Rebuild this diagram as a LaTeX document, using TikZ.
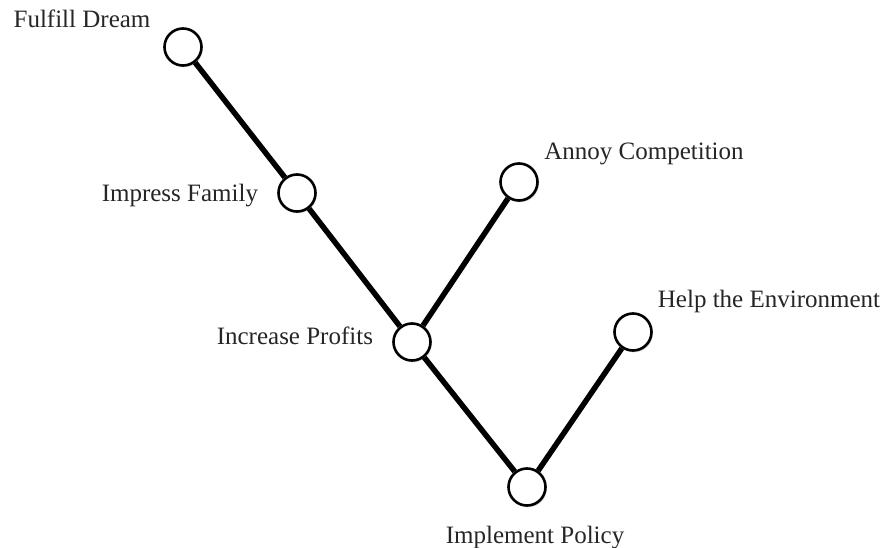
\documentclass[tikz,border=0pt]{standalone}
\usepackage{fontspec}
\setmainfont{Liberation Serif}
\usetikzlibrary{positioning,shadows}

\begin{document}
\begin{tikzpicture}[x=1pt, y=-1pt]
	\tikzset{
		goal/.style={circle, draw=black, fill=white, line width=2.6pt, minimum size=37pt, inner sep=0pt,
			drop shadow={opacity=0.35, shadow xshift=1.2pt, shadow yshift=-1.8pt}},
		goaltext/.style={text=black!85, font=\fontsize{25}{29}\selectfont, inner sep=0pt},
		goallink/.style={line width=5.5pt}
	}
	\useasboundingbox[fill=white] (0,0) rectangle (887,548);

	% goal circles
	\node[goal] (dream) at (183,47) {};
	\node[goal] (family) at (297,193) {};
	\node[goal] (annoy) at (519,182) {};
	\node[goal] (profits) at (412,342) {};
	\node[goal] (environment) at (633,332) {};
	\node[goal] (policy) at (527,487) {};

	% their names
	\node[goaltext] (dreamtext) at (82,19) {Fulfill Dream};
	\node[goaltext, left=19pt of family, yshift=-3pt] (familytext) {Impress Family};
	\node[goaltext] (annoytext) at (644,154) {Annoy Competition};
	\node[goaltext, left=19pt of profits, yshift=6pt] (profitstext) {Increase Profits};
	\node[goaltext] (environmenttext) at (769,301) {Help the Environment};
	\node[goaltext] (policytext) at (535,538) {Implement Policy};

	\draw[goallink] (dream) -- (family);
	\draw[goallink] (family) -- (profits);
	\draw[goallink] (annoy) -- (profits);
	\draw[goallink] (profits) -- (policy);
	\draw[goallink] (environment) -- (policy);
\end{tikzpicture}
\end{document}
